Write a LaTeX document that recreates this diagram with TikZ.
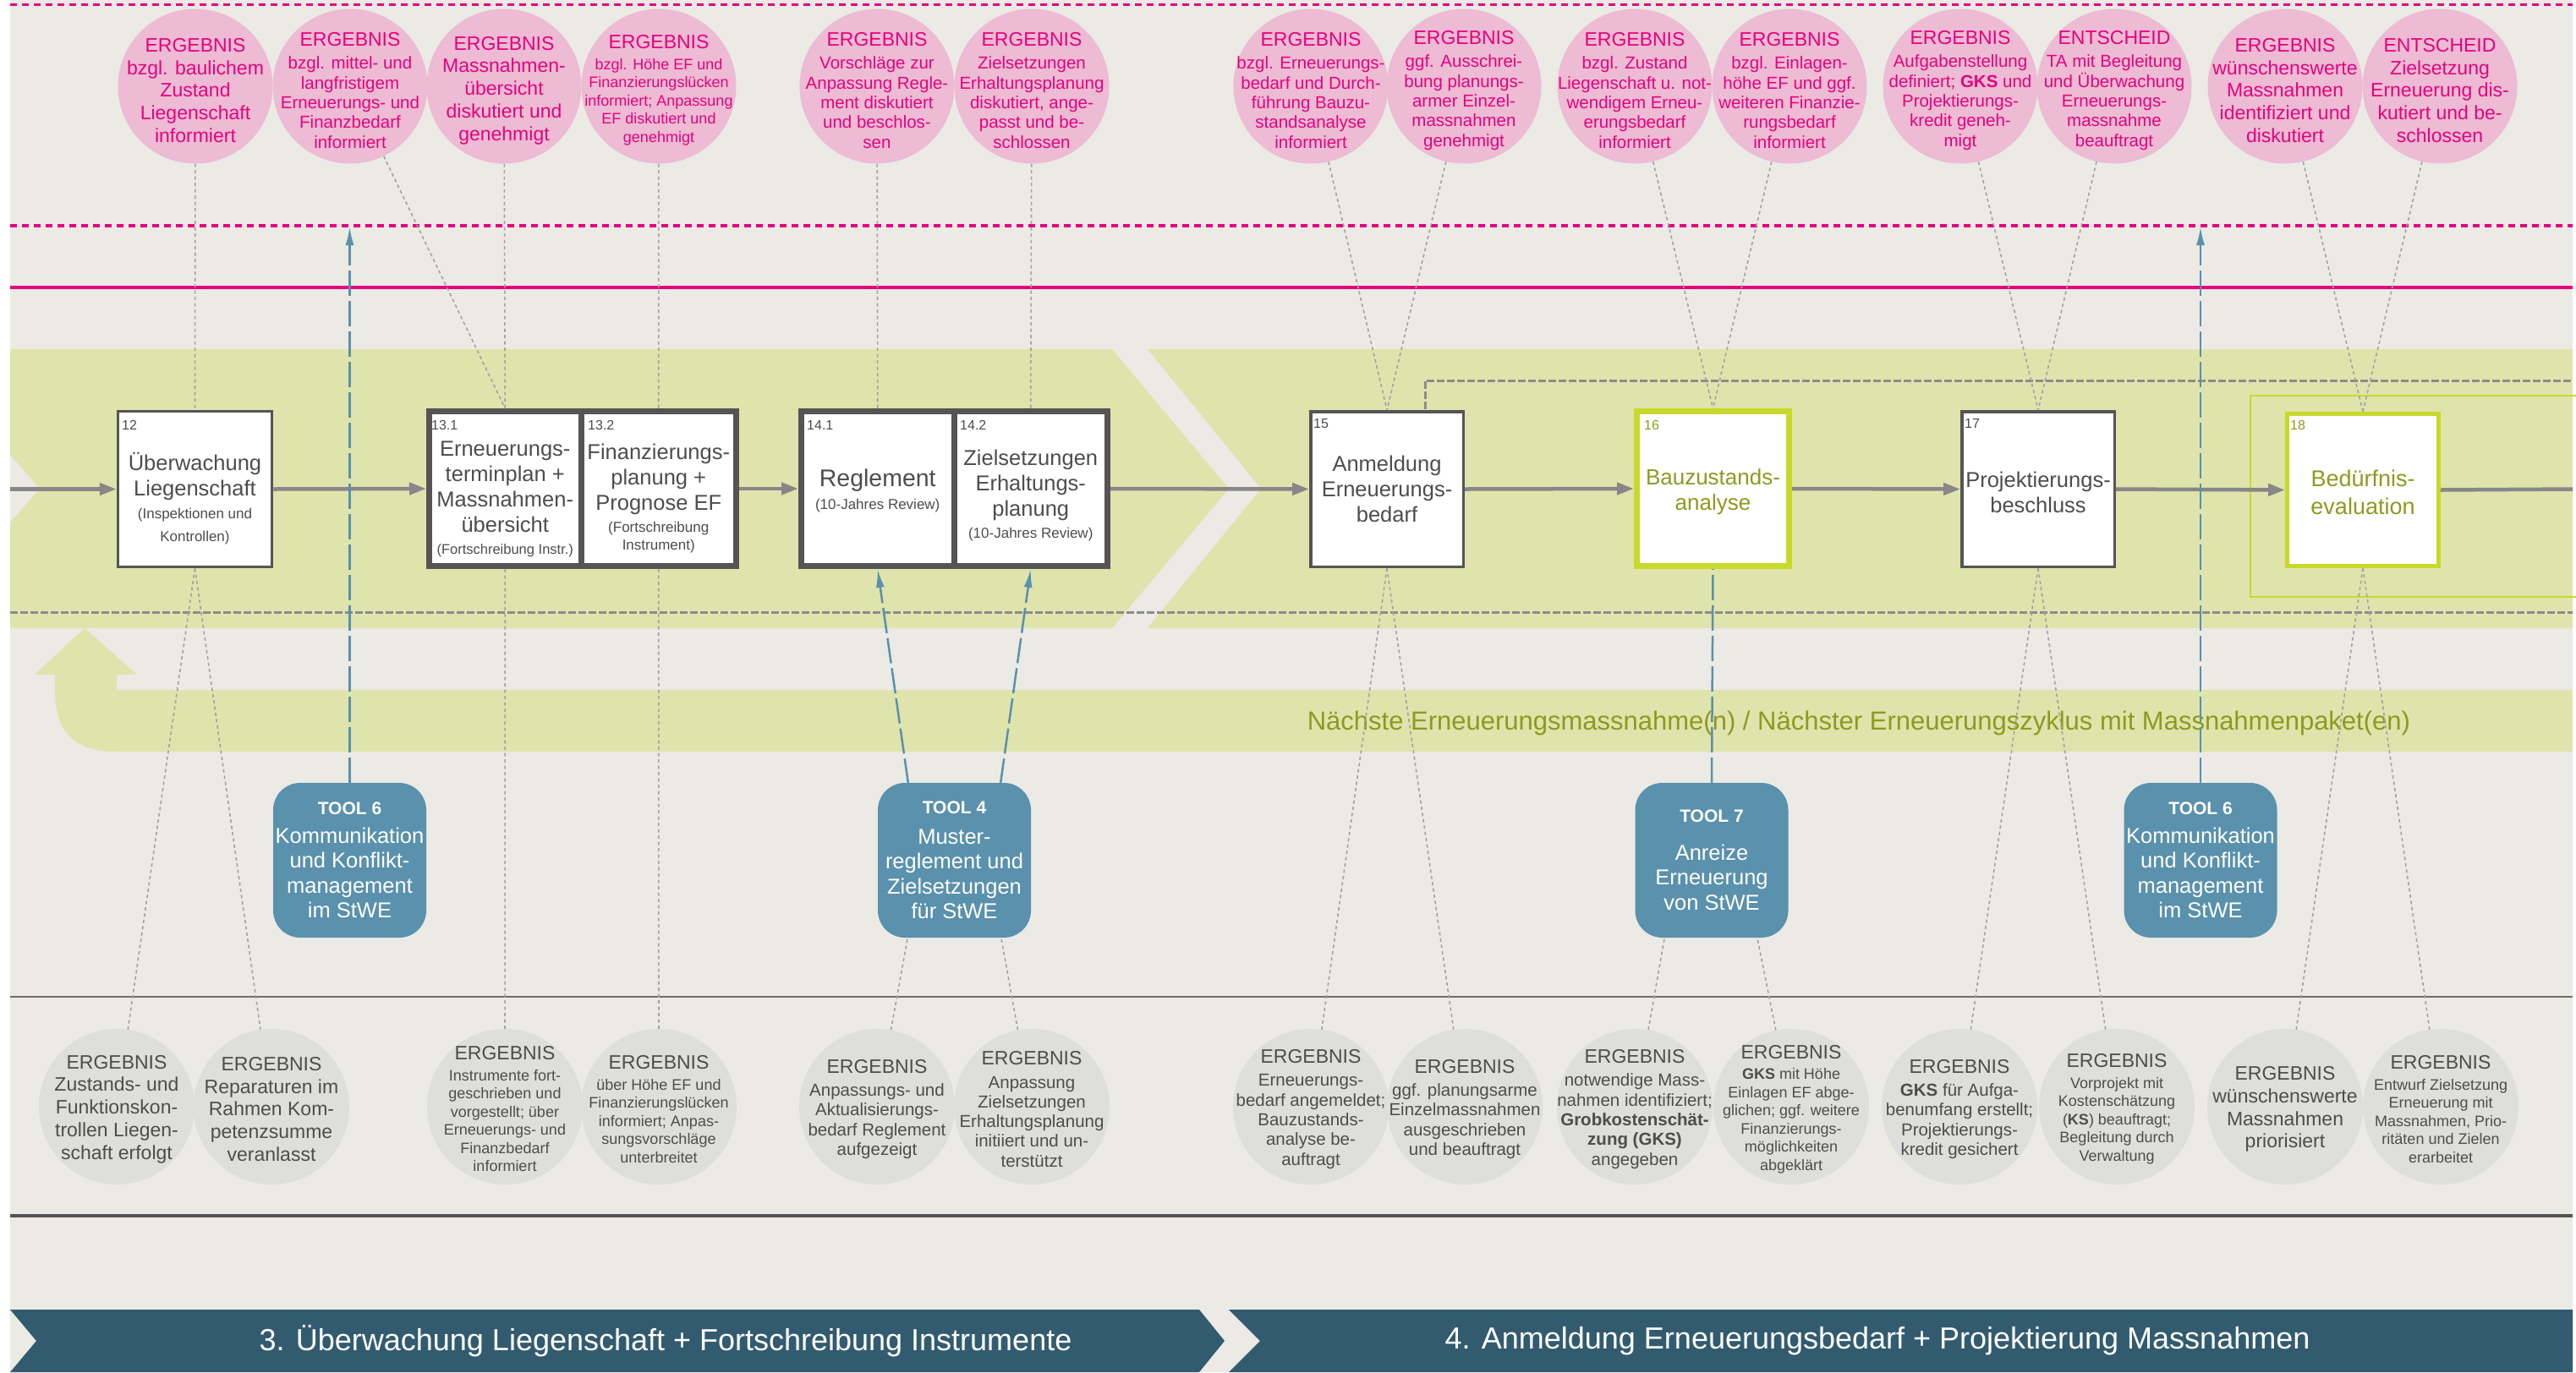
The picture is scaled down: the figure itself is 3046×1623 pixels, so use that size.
\documentclass[tikz,border=0pt]{standalone}
\usepackage{fontspec}
\setmainfont{Liberation Sans}
\usetikzlibrary{arrows.meta}
\definecolor{bgc}{HTML}{EBEAE5}
\definecolor{bandg}{HTML}{DFE4AC}
\definecolor{pinkf}{HTML}{EDBBD3}
\definecolor{mag}{HTML}{E6007E}
\definecolor{grayf}{HTML}{DEDEDA}
\definecolor{txtg}{HTML}{4D4D4D}
\definecolor{boxd}{HTML}{555555}
\definecolor{lime}{HTML}{C8D92B}
\definecolor{olive}{HTML}{8C9B1E}
\definecolor{toolb}{HTML}{5A91AC}
\definecolor{barb}{HTML}{325B6F}
\definecolor{dotg}{HTML}{A3A3A3}
\definecolor{flowg}{HTML}{878787}
\definecolor{dashg}{HTML}{8C8C8C}
\tikzset{
  pcirc/.style={circle, fill=pinkf, minimum size=183pt, inner sep=0pt},
  gcirc/.style={circle, fill=grayf, minimum size=184pt, inner sep=0pt},
  ptext/.style={text=mag, align=center, inner sep=0pt},
  gtext/.style={text=txtg, align=center, inner sep=0pt},
  fbig/.style={font=\fontsize{23pt}{26.7pt}\selectfont},
  fmed/.style={font=\fontsize{20.5pt}{23.3pt}\selectfont},
  fsml/.style={font=\fontsize{18pt}{21.5pt}\selectfont},
  dotl/.style={draw=dotg, line width=1.6pt, dash pattern=on 4pt off 3.5pt},
  flowline/.style={draw=flowg, line width=4.5pt},
  flow/.style={flowline, -{Triangle[length=20pt,width=14pt]}},
  pbox/.style={draw=boxd, fill=white, line width=3.5pt, inner sep=0pt},
  pboxthick/.style={draw=boxd, fill=white, line width=7pt, inner sep=0pt},
  gbox/.style={draw=lime, fill=white, line width=7pt, inner sep=0pt},
  btext/.style={text=txtg, align=center, inner sep=0pt, font=\fontsize{25.5pt}{30pt}\selectfont},
  gbtext/.style={text=olive, align=center, inner sep=0pt, font=\fontsize{26pt}{30pt}\selectfont},
  numtext/.style={text=txtg, anchor=north west, inner sep=0pt, font=\fontsize{16pt}{18pt}\selectfont},
  tool/.style={fill=toolb, rounded corners=32pt, minimum width=181pt, minimum height=183pt, inner sep=0pt, text=white, align=center, font=\fontsize{25.5pt}{29.5pt}\selectfont},
  bluel/.style={draw=toolb, line width=2.5pt, dash pattern=on 30pt off 6pt},
  bluea/.style={bluel, -{Latex[length=22pt,width=10pt]}},
  bdash/.style={draw=dashg, line width=3pt, dash pattern=on 9pt off 3pt},
  bartext/.style={text=white, inner sep=0pt, font=\fontsize{36pt}{40pt}\selectfont},
}
\newcommand{\mkTop}[6]{\node[pcirc] (#1) at (#2,102) {};
  \node[ptext,#3] (#1x) at (#2,107) {{\fontsize{23pt}{26pt}\selectfont #5}\\[#4]#6};}
\newcommand{\mkBot}[6]{\node[gcirc] (#1) at (#2,1309) {};
  \node[gtext,#3] (#1x) at (#2,1312) {{\fontsize{23pt}{26pt}\selectfont #5}\\[#4]#6};}
\newcommand{\smf}{\fontsize{17pt}{20pt}\selectfont}
\newcommand{\toolt}[1]{{\bfseries\fontsize{21pt}{24pt}\selectfont #1}}
\begin{document}
\begin{tikzpicture}[x=1pt,y=-1pt]
\useasboundingbox (0,0) rectangle (3046,1623);
\fill[white] (0,0) rectangle (3046,1623);
\fill[bgc] (12,0) rectangle (3042,1623);
% green bands
\fill[bandg] (12,413) -- (1315,413) -- (1453,578) -- (1315,743) -- (12,743) -- (12,618) -- (47,578) -- (12,538) -- cycle;
\fill[bandg] (1357,413) -- (3042,413) -- (3042,743) -- (1357,743) -- (1491,578) -- cycle;
\fill[bandg] (65,798) -- (65,816) .. controls (65,870) and (92,889) .. (138,889) -- (3042,889) -- (3042,816) -- (138,816) -- (138,798) -- cycle;
\fill[bandg] (41,798) -- (100,743) -- (162,798) -- cycle;
\node[text=olive, inner sep=0pt, font=\fontsize{31pt}{34pt}\selectfont] (nxt) at (2198,855) {Nächste Erneuerungsmassnahme(n) / Nächster Erneuerungszyklus mit Massnahmenpaket(en)};
% pink lines
\draw[mag, line width=3pt, dash pattern=on 8pt off 6pt] (12,5) -- (3042,5);
\draw[mag, line width=4pt, dash pattern=on 8pt off 6pt] (12,267) -- (3042,267);
\draw[mag, line width=4pt] (12,340) -- (3042,340);
% gray separators
\draw[color=boxd!85, line width=2.5pt] (12,1179) -- (3042,1179);
\draw[color=boxd, line width=4pt] (12,1438) -- (3042,1438);
% band dashed lines
\draw[bdash] (12,724) -- (3042,724);
\coordinate (u0) at (1685,484);
\coordinate (u1) at (1685,450);
\coordinate (u2) at (3042,450);
\draw[bdash] (u0) -- (u1) -- (u2);
\draw[lime, line width=2.5pt] (3046,468) -- (2661,468) -- (2661,706) -- (3046,706);
% process boxes
\node[pbox, minimum width=182pt, minimum height=184pt] (b12) at (230.5,578.5) {};
\node[pboxthick, minimum width=179.5pt, minimum height=183pt] (b131) at (597.25,578) {};
\node[pboxthick, minimum width=183.5pt, minimum height=183pt] (b132) at (778.75,578) {};
\node[pboxthick, minimum width=180.5pt, minimum height=183pt] (b141) at (1037.75,578) {};
\node[pboxthick, minimum width=181.5pt, minimum height=183pt] (b142) at (1218.75,578) {};
\node[pbox, minimum width=180.5pt, minimum height=183.5pt] (b15) at (1640,578.5) {};
\node[gbox, minimum width=180pt, minimum height=183pt] (b16) at (2025.5,578) {};
\node[pbox, minimum width=180.5pt, minimum height=183.5pt] (b17) at (2410,578.5) {};
\node[gbox, line width=5pt, minimum width=179pt, minimum height=180pt] (b18) at (2794,579.5) {};
% box numbers
\node[numtext] (n12) at (144,497) {12};
\node[numtext] (n131) at (510,497) {13.1};
\node[numtext] (n132) at (695,497) {13.2};
\node[numtext] (n141) at (954,497) {14.1};
\node[numtext] (n142) at (1135,497) {14.2};
\node[numtext] (n15) at (1553,495) {15};
\node[numtext, text=olive] (n16) at (1944,497) {16};
\node[numtext] (n17) at (2323,495) {17};
\node[numtext, text=olive] (n18) at (2708,497) {18};
% box texts
\node[btext] (b12x) at (230.5,590) {Überwachung\\Liegenschaft\\[-3pt]{\smf(Inspektionen und}\\[-3pt]{\smf Kontrollen)}};
\node[btext] (b131x) at (597.25,590) {Erneuerungs-\\terminplan +\\Massnahmen-\\übersicht\\[-4pt]{\fontsize{16.5pt}{20pt}\selectfont(Fortschreibung Instr.)}};
\node[btext] (b132x) at (778.75,590) {Finanzierungs-\\planung +\\Prognose EF\\[-4pt]{\smf(Fortschreibung}\\[-9pt]{\smf Instrument)}};
\node[btext] (b141x) at (1037.75,580) {{\fontsize{28.5pt}{30pt}\selectfont Reglement}\\[-3pt]{\smf(10-Jahres Review)}};
\node[btext] (b142x) at (1218.75,586) {Zielsetzungen\\Erhaltungs-\\planung\\[-4pt]{\smf(10-Jahres Review)}};
\node[btext] (b15x) at (1640,578) {Anmeldung\\Erneuerungs-\\bedarf};
\node[gbtext] (b16x) at (2025.5,582) {Bauzustands-\\analyse};
\node[btext] (b17x) at (2410,582) {Projektierungs-\\beschluss};
\node[gbtext, font=\fontsize{27pt}{33pt}\selectfont] (b18x) at (2794,582) {Bedürfnis-\\evaluation};
% flow arrows
\coordinate (fL) at (12,578.5);
\coordinate (fR) at (3042,578.5);
\draw[flow] (fL) -- (b12.west);
\draw[flow] (b12.east) -- (b131.west);
\draw[flow] (b132.east) -- (b141.west);
\draw[flow] (b142.east) -- (b15.west);
\draw[flow] (b15.east) -- (b16.west);
\draw[flow] (b16.east) -- (b17.west);
\draw[flow] (b17.east) -- (b18.west);
\draw[flowline] (b18.east) -- (fR);
% top circles
\mkTop{t1}{231}{fbig}{0pt}{ERGEBNIS}{bzgl. baulichem\\Zustand\\Liegenschaft\\informiert}
\mkTop{t2}{414}{fmed}{4pt}{ERGEBNIS}{bzgl. mittel- und\\langfristigem\\Erneuerungs- und\\Finanzbedarf\\informiert}
\mkTop{t3}{596}{fbig}{0pt}{ERGEBNIS}{Massnahmen-\\übersicht\\diskutiert und\\genehmigt}
\mkTop{t4}{779}{fsml}{3pt}{ERGEBNIS}{bzgl. Höhe EF und\\Finanzierungslücken\\informiert; Anpassung\\EF diskutiert und\\genehmigt}
\mkTop{t5}{1037}{fmed}{4pt}{ERGEBNIS}{Vorschläge zur\\Anpassung Regle-\\ment diskutiert\\und beschlos-\\sen}
\mkTop{t6}{1220}{fmed}{4pt}{ERGEBNIS}{Zielsetzungen\\Erhaltungsplanung\\diskutiert, ange-\\passt und be-\\schlossen}
\mkTop{t7}{1550}{fmed}{4pt}{ERGEBNIS}{bzgl. Erneuerungs-\\bedarf und Durch-\\führung Bauzu-\\standsanalyse\\informiert}
\mkTop{t8}{1731}{fmed}{4pt}{ERGEBNIS}{ggf. Ausschrei-\\bung planungs-\\armer Einzel-\\massnahmen\\genehmigt}
\mkTop{t9}{1933}{fmed}{4pt}{ERGEBNIS}{bzgl. Zustand\\Liegenschaft u. not-\\wendigem Erneu-\\erungsbedarf\\informiert}
\mkTop{t10}{2116}{fmed}{4pt}{ERGEBNIS}{bzgl. Einlagen-\\höhe EF und ggf.\\weiteren Finanzie-\\rungsbedarf\\informiert}
\mkTop{t11}{2318}{fmed}{4pt}{ERGEBNIS}{Aufgabenstellung\\definiert; \textbf{GKS} und\\Projektierungs-\\kredit geneh-\\migt}
\mkTop{t12}{2500}{fmed}{4pt}{ENTSCHEID}{TA mit Begleitung\\und Überwachung\\Erneuerungs-\\massnahme\\beauftragt}
\mkTop{t13}{2702}{fbig}{0pt}{ERGEBNIS}{wünschenswerte\\Massnahmen\\identifiziert und\\diskutiert}
\mkTop{t14}{2885}{fbig}{0pt}{ENTSCHEID}{Zielsetzung\\Erneuerung dis-\\kutiert und be-\\schlossen}
% bottom circles
\mkBot{c1}{138}{fbig}{0pt}{ERGEBNIS}{Zustands- und\\Funktionskon-\\trollen Liegen-\\schaft erfolgt}
\mkBot{c2}{321}{fbig}{0pt}{ERGEBNIS}{Reparaturen im\\Rahmen Kom-\\petenzsumme\\veranlasst}
\mkBot{c3}{597}{fsml}{3pt}{ERGEBNIS}{Instrumente fort-\\geschrieben und\\vorgestellt; über\\Erneuerungs- und\\Finanzbedarf\\informiert}
\mkBot{c4}{779}{fsml}{3pt}{ERGEBNIS}{über Höhe EF und\\Finanzierungslücken\\informiert; Anpas-\\sungsvorschläge\\unterbreitet}
\mkBot{c5}{1037}{fmed}{4pt}{ERGEBNIS}{Anpassungs- und\\Aktualisierungs-\\bedarf Reglement\\aufgezeigt}
\mkBot{c6}{1220}{fmed}{4pt}{ERGEBNIS}{Anpassung\\Zielsetzungen\\Erhaltungsplanung\\initiiert und un-\\terstützt}
\mkBot{c7}{1550}{fmed}{4pt}{ERGEBNIS}{Erneuerungs-\\bedarf angemeldet;\\Bauzustands-\\analyse be-\\auftragt}
\mkBot{c8}{1732}{fmed}{4pt}{ERGEBNIS}{ggf. planungsarme\\Einzelmassnahmen\\ausgeschrieben\\und beauftragt}
\mkBot{c9}{1933}{fmed}{4pt}{ERGEBNIS}{notwendige Mass-\\nahmen identifiziert;\\\textbf{Grobkostenschät-}\\\textbf{zung (GKS)}\\angegeben}
\mkBot{c10}{2118}{fsml}{3pt}{ERGEBNIS}{\textbf{GKS} mit Höhe\\Einlagen EF abge-\\glichen; ggf. weitere\\Finanzierungs-\\möglichkeiten\\abgeklärt}
\mkBot{c11}{2317}{fmed}{4pt}{ERGEBNIS}{\textbf{GKS} für Aufga-\\benumfang erstellt;\\Projektierungs-\\kredit gesichert}
\mkBot{c12}{2503}{fsml}{3pt}{ERGEBNIS}{Vorprojekt mit\\Kostenschätzung\\(\textbf{KS}) beauftragt;\\Begleitung durch\\Verwaltung}
\mkBot{c13}{2702}{fbig}{0pt}{ERGEBNIS}{wünschenswerte\\Massnahmen\\priorisiert}
\mkBot{c14}{2886}{fsml}{3pt}{ERGEBNIS}{Entwurf Zielsetzung\\Erneuerung mit\\Massnahmen, Prio-\\ritäten und Zielen\\erarbeitet}
% dotted connectors top
\draw[dotl] (t1) -- (b12.north);
\draw[dotl] (t2) -- (b131.north);
\draw[dotl] (t3) -- (b131.north);
\draw[dotl] (t4) -- (b132.north);
\draw[dotl] (t5) -- (b141.north);
\draw[dotl] (t6) -- (b142.north);
\draw[dotl] (t7) -- (b15.north);
\draw[dotl] (t8) -- (b15.north);
\draw[dotl] (t9) -- (b16.north);
\draw[dotl] (t10) -- (b16.north);
\draw[dotl] (t11) -- (b17.north);
\draw[dotl] (t12) -- (b17.north);
\draw[dotl] (t13) -- (b18.north);
\draw[dotl] (t14) -- (b18.north);
% dotted connectors bottom
\coordinate (k5) at (1074,1105);
\coordinate (k6) at (1183,1105);
\coordinate (k9) at (1969,1105);
\coordinate (k10) at (2077,1105);
\draw[dotl] (b12.south) -- (c1);
\draw[dotl] (b12.south) -- (c2);
\draw[dotl] (b131.south) -- (c3);
\draw[dotl] (b132.south) -- (c4);
\draw[dotl] (c5) -- (k5);
\draw[dotl] (c6) -- (k6);
\draw[dotl] (b15.south) -- (c7);
\draw[dotl] (b15.south) -- (c8);
\draw[dotl] (c9) -- (k9);
\draw[dotl] (c10) -- (k10);
\draw[dotl] (b17.south) -- (c11);
\draw[dotl] (b17.south) -- (c12);
\draw[dotl] (b18.south) -- (c13);
\draw[dotl] (b18.south) -- (c14);
% tools
\node[tool] (tool6a) at (413.5,1017.5) {\toolt{TOOL 6}\\[4pt]Kommunikation\\und Konflikt-\\management\\im StWE};
\node[tool] (tool4) at (1128.5,1017.5) {\toolt{TOOL 4}\\[6pt]Muster-\\reglement und\\Zielsetzungen\\für StWE};
\node[tool] (tool7) at (2024,1017.5) {\toolt{TOOL 7}\\[15pt]Anreize\\Erneuerung\\von StWE};
\node[tool] (tool6b) at (2602,1017.5) {\toolt{TOOL 6}\\[4pt]Kommunikation\\und Konflikt-\\management\\im StWE};
% blue connectors
\coordinate (a6l) at (413.5,268);
\coordinate (a6r) at (2602,268);
\coordinate (k4a) at (1074,927);
\coordinate (k4b) at (1183,927);
\draw[bluea] (tool6a.north) -- (a6l);
\draw[bluea] (tool6b.north) -- (a6r);
\draw[bluea] (k4a) -- (b141.south);
\draw[bluea] (k4b) -- (b142.south);
\draw[bluel] (tool7.north) -- (b16.south);
% bottom bars
\fill[barb] (12,1549) -- (1418,1549) -- (1448,1586) -- (1418,1623) -- (12,1623) -- (43,1586) -- cycle;
\fill[barb] (1453,1549) -- (3042,1549) -- (3042,1623) -- (1453,1623) -- (1490,1586) -- cycle;
\node[bartext] (bar3) at (787,1586) {3. Überwachung Liegenschaft + Fortschreibung Instrumente};
\node[bartext] (bar4) at (2220,1586) {4. Anmeldung Erneuerungsbedarf + Projektierung Massnahmen};
\end{tikzpicture}
\end{document}
